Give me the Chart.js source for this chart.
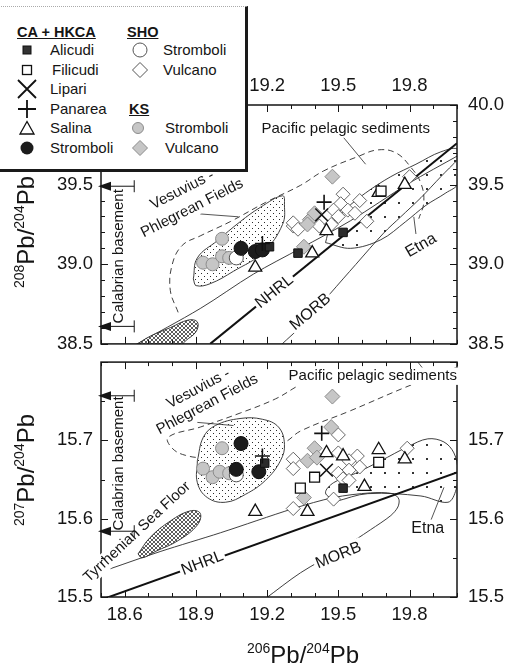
<!DOCTYPE html>
<html>
<head>
<meta charset="utf-8">
<title>Aeolian arc – Pb isotopes</title>
<script src="https://cdn.jsdelivr.net/npm/chart.js@4.4.1/dist/chart.umd.min.js"></script>
<style>
  html, body { margin: 0; padding: 0; background: #fff; }
  #wrap { position: relative; width: 507px; height: 668px; overflow: hidden;
          font-family: "Liberation Sans", Arial, Helvetica, sans-serif; color: #151515; }
  #wrap canvas { position: absolute; left: 0; }
  #cTop { top: 0; }
  #cBot { top: 340px; }
  .axtitle { position: absolute; white-space: nowrap; font-size: 24px; line-height: 24px; }
  .axtitle .s { font-size: 14px; position: relative; top: -10px; }
  .rot { transform: translate(-50%, -50%) rotate(-90deg); }
  #legend { position: absolute; left: -2px; top: 6px; width: 247px; height: 162px; background: #fff;
            border-right: 3px solid #1a1a1a; border-bottom: 3px solid #1a1a1a; border-top: 1px dotted #aaa; }
  .lg { position: absolute; font-size: 15px; line-height: 18px; white-space: nowrap; }
  .lh { font-weight: bold; font-size: 14.5px; text-decoration: underline; }
  #lgsym { position: absolute; left: 0; top: 0; }
</style>
</head>
<body>
<div id="wrap">
  <canvas id="cTop" width="507" height="366"></canvas>
  <canvas id="cBot" width="507" height="328"></canvas>

  <div class="axtitle rot" style="left:27px;top:232px"><span class="s">208</span>Pb/<span class="s">204</span>Pb</div>
  <div class="axtitle rot" style="left:27px;top:470px"><span class="s">207</span>Pb/<span class="s">204</span>Pb</div>
  <div class="axtitle" style="left:303px;top:643px;transform:translateX(-50%)"><span class="s">206</span>Pb/<span class="s">204</span>Pb</div>

  <div id="legend"></div>
  <svg id="lgsym" width="250" height="175">
    <rect x="23" y="46" width="8" height="8" fill="#333" stroke="#111" stroke-width="1"/>
    <rect x="22.5" y="65.5" width="9" height="9" fill="#fff" stroke="#111" stroke-width="1.3"/>
    <path d="M18 80 L36 98 M36 80 L18 98" stroke="#111" stroke-width="1.8" fill="none"/>
    <path d="M18 109 H36 M27 100 V118" stroke="#111" stroke-width="1.8" fill="none"/>
    <polygon points="27,121.5 34,134 20,134" fill="#fff" stroke="#111" stroke-width="1.3"/>
    <circle cx="27" cy="148" r="6.5" fill="#1c1c1c"/>
    <circle cx="140" cy="50" r="7" fill="#fff" stroke="#555" stroke-width="1"/>
    <polygon points="140,62.5 147.5,70 140,77.5 132.5,70" fill="#fff" stroke="#555" stroke-width="1"/>
    <circle cx="138" cy="128" r="5.5" fill="#c6c6c6" stroke="#8c8c8c" stroke-width="1"/>
    <polygon points="140,140.5 147.5,148 140,155.5 132.5,148" fill="#c6c6c6" stroke="#8c8c8c" stroke-width="1"/>
  </svg>
  <div class="lg lh" style="left:17px;top:23px">CA + HKCA</div>
  <div class="lg" style="left:50px;top:41px">Alicudi</div>
  <div class="lg" style="left:52px;top:61px">Filicudi</div>
  <div class="lg" style="left:50px;top:80px">Lipari</div>
  <div class="lg" style="left:50px;top:100px">Panarea</div>
  <div class="lg" style="left:50px;top:119px">Salina</div>
  <div class="lg" style="left:50px;top:139px">Stromboli</div>
  <div class="lg lh" style="left:127px;top:23px">SHO</div>
  <div class="lg" style="left:163px;top:41px">Stromboli</div>
  <div class="lg" style="left:163px;top:61px">Vulcano</div>
  <div class="lg lh" style="left:129px;top:100px">KS</div>
  <div class="lg" style="left:165px;top:119px">Stromboli</div>
  <div class="lg" style="left:165px;top:139px">Vulcano</div>
</div>

<script>
const FONT = '"Liberation Sans", Arial, Helvetica, sans-serif';
const INK = '#151515';

// ---- axis ticks ----
const xTickValues = [18.6, 18.9, 19.2, 19.5, 19.8];
const yTicks208 = [38.5, 39.0, 39.5, 40.0];
const yTicks207 = [15.5, 15.6, 15.7];

// ---- samples: [206Pb/204Pb, 208Pb/204Pb] and [206Pb/204Pb, 207Pb/204Pb] ----
const alicudi208 = [[19.21, 39.11], [19.33, 39.07], [19.52, 39.20]];
const alicudi207 = [[19.19, 15.671], [19.52, 15.639]];
const filicudi208 = [[19.68, 39.46]];
const filicudi207 = [[19.67, 15.672], [19.40, 15.653], [19.34, 15.639]];
const lipari208 = [[19.43, 39.31]];
const lipari207 = [[19.45, 15.662]];
const panarea208 = [[19.44, 39.39], [19.18, 39.13]];
const panarea207 = [[19.43, 15.709], [19.18, 15.680]];
const salina208 = [[19.15, 38.98], [19.39, 39.07], [19.45, 39.21], [19.67, 39.45], [19.78, 39.50]];
const salina207 = [[19.15, 15.609], [19.37, 15.609], [19.45, 15.684], [19.52, 15.680], [19.61, 15.641], [19.67, 15.688], [19.78, 15.676]];
const stromboliCA208 = [[19.09, 39.10], [19.15, 39.08], [19.18, 39.09]];
const stromboliCA207 = [[19.09, 15.696], [19.07, 15.663], [19.165, 15.660]];
const stromboliSHO208 = [[19.07, 39.04]];
const stromboliSHO207 = [[19.07, 15.656]];
const vulcanoSHO208 = [[19.80, 39.55], [19.52, 39.44], [19.59, 39.40], [19.51, 39.38], [19.54, 39.34], [19.57, 39.32],
  [19.48, 39.34], [19.50, 39.30], [19.31, 39.24], [19.31, 39.26], [19.33, 39.22], [19.62, 39.27], [19.42, 39.24], [19.47, 39.25]];
const vulcanoSHO207 = [[19.79, 15.690], [19.50, 15.707], [19.50, 15.684], [19.58, 15.680], [19.545, 15.674], [19.59, 15.666],
  [19.545, 15.662], [19.50, 15.658], [19.52, 15.651], [19.48, 15.625], [19.31, 15.676], [19.31, 15.664], [19.31, 15.613], [19.545, 15.649]];
const stromboliKS208 = [[19.01, 39.16], [18.93, 39.01], [18.97, 39.00], [19.01, 39.05], [19.04, 39.04]];
const stromboliKS207 = [[19.01, 15.690], [18.93, 15.664], [18.97, 15.653], [19.00, 15.660], [19.04, 15.658]];
const vulcanoKS208 = [[19.475, 39.55], [19.38, 39.28], [19.40, 39.32], [19.355, 39.11], [19.37, 39.25]];
const vulcanoKS207 = [[19.475, 15.756], [19.47, 15.717], [19.40, 15.690], [19.37, 15.674], [19.41, 15.678], [19.355, 15.627]];

// ---- reference fields and lines ----
const vpf208 = [[18.889, 38.908], [18.906, 39.040], [18.990, 39.148], [19.087, 39.268], [19.172, 39.358], [19.265, 39.430],
  [19.273, 39.376], [19.265, 39.250], [19.184, 39.076], [19.058, 38.956], [18.960, 38.878], [18.901, 38.866], [18.889, 38.908]];
const vpf207 = [[18.906, 15.674], [18.931, 15.704], [18.982, 15.719], [19.087, 15.728], [19.180, 15.727], [19.248, 15.717],
  [19.273, 15.695], [19.256, 15.674], [19.193, 15.649], [19.108, 15.631], [19.024, 15.621], [18.948, 15.627], [18.906, 15.646], [18.906, 15.674]];
const pelagic208 = [[18.825, 38.698], [18.792, 38.836], [18.800, 38.998], [18.842, 39.118], [18.918, 39.178], [19.045, 39.268],
  [19.193, 39.388], [19.341, 39.496], [19.438, 39.586], [19.582, 39.676], [19.666, 39.718], [19.742, 39.700], [19.805, 39.610],
  [19.848, 39.508], [19.860, 39.388], [19.839, 39.286]];
const pelagic207 = [[19.320, 15.768], [19.235, 15.753], [19.087, 15.735], [18.918, 15.717], [18.783, 15.704], [18.800, 15.690],
  [18.855, 15.681], [18.939, 15.678], [19.087, 15.682], [19.269, 15.697], [19.341, 15.712], [19.552, 15.738], [19.784, 15.768], [20.004, 15.794]];
const etna208 = [[19.446, 39.136], [19.552, 39.100], [19.679, 39.154], [19.784, 39.268], [19.869, 39.370], [19.953, 39.448],
  [20.004, 39.508], [20.004, 39.718], [19.932, 39.706], [19.827, 39.628], [19.721, 39.550], [19.615, 39.448], [19.531, 39.346],
  [19.467, 39.238], [19.446, 39.136]];
const etna207 = [[19.489, 15.622], [19.624, 15.632], [19.848, 15.629], [19.962, 15.621], [19.996, 15.637], [20.004, 15.662],
  [19.987, 15.684], [19.945, 15.698], [19.877, 15.702], [19.793, 15.692], [19.679, 15.674], [19.573, 15.658], [19.480, 15.646],
  [19.446, 15.633], [19.489, 15.622]];
const tsf208 = [[18.644, 38.49], [18.707, 38.548], [18.792, 38.602], [18.868, 38.650], [18.906, 38.638], [18.901, 38.578],
  [18.855, 38.518], [18.834, 38.49], [18.644, 38.49]];
const tsf207 = [[18.656, 15.555], [18.707, 15.576], [18.792, 15.597], [18.876, 15.610], [18.918, 15.607], [18.906, 15.592],
  [18.825, 15.572], [18.728, 15.558], [18.673, 15.550], [18.656, 15.555]];
const morbUpper208 = [[18.640, 38.49], [18.918, 38.722], [19.142, 38.938], [19.341, 39.100], [19.552, 39.274], [19.797, 39.508], [20.004, 39.682]];
const morbLower208 = [[19.256, 38.49], [19.362, 38.638], [19.467, 38.818], [19.573, 38.998], [19.691, 39.196], [19.763, 39.298],
  [19.848, 39.418], [19.932, 39.550], [20.004, 39.658]];
const morb207 = [[18.538, 15.536], [18.749, 15.558], [19.003, 15.582], [19.311, 15.613], [19.480, 15.627], [19.636, 15.633],
  [19.729, 15.632], [19.755, 15.625], [19.751, 15.615], [19.721, 15.604], [19.636, 15.586], [19.510, 15.561], [19.341, 15.531], [19.193, 15.498]];
const nhrl208 = [[18.960, 38.5], [20.0, 39.76]];
const nhrl207 = [[18.5, 15.4964], [20.0, 15.659]];
const leaders208 = [[[19.522, 39.796], [19.615, 39.628]], [[18.918, 39.316], [19.079, 39.298]], [[19.818, 39.298], [19.827, 39.190]]];
const leaders207 = [[[19.835, 15.800], [19.869, 15.787]], [[18.906, 15.723], [19.058, 15.719]], [[19.890, 15.598], [19.945, 15.640]]];
const calabrian208 = [38.61, 39.49];
const calabrian207 = [15.584, 15.757];

// ---- helpers ----
const pts = a => a.map(p => ({ x: p[0], y: p[1] }));

function tile(size, paint) {
  const c = document.createElement('canvas');
  c.width = c.height = size;
  paint(c.getContext('2d'), size);
  return c;
}
const stippleTile = tile(6, (g, s) => {
  g.fillStyle = '#fff'; g.fillRect(0, 0, s, s);
  g.fillStyle = '#2a2a2a'; g.fillRect(0, 0, 1, 1); g.fillRect(3, 3, 1, 1);
});
const sparseTile = tile(14, (g) => {
  g.fillStyle = '#333'; g.fillRect(6, 6, 2, 2);
});
const hatchTile = tile(4, (g, s) => {
  g.fillStyle = '#fff'; g.fillRect(0, 0, s, s);
  g.strokeStyle = '#333'; g.lineWidth = 0.8;
  g.beginPath(); g.moveTo(0, 0); g.lineTo(4, 4); g.moveTo(4, 0); g.lineTo(0, 4); g.stroke();
});

const markerStyles = {
  lipari:   { pointStyle: 'crossRot', pointRadius: 9, borderColor: '#111', borderWidth: 1.6 },
  panarea:  { pointStyle: 'cross', pointRadius: 7.5, borderColor: '#111', borderWidth: 1.6 },
  alicudi:  { pointStyle: 'rect', pointRadius: 6, backgroundColor: '#2b2b2b', borderColor: '#111', borderWidth: 1 },
  filicudi: { pointStyle: 'rect', pointRadius: 7, backgroundColor: '#fff', borderColor: '#111', borderWidth: 1.3 },
  salina:   { pointStyle: 'triangle', pointRadius: 7.5, backgroundColor: '#fff', borderColor: '#111', borderWidth: 1.3 },
  strombCA: { pointStyle: 'circle', pointRadius: 7, backgroundColor: '#1c1c1c', borderColor: '#111', borderWidth: 1 },
  strombSHO:{ pointStyle: 'circle', pointRadius: 7, backgroundColor: '#fff', borderColor: '#555', borderWidth: 1 },
  strombKS: { pointStyle: 'circle', pointRadius: 6.5, backgroundColor: '#c6c6c6', borderColor: '#8c8c8c', borderWidth: 1 },
  vulcKS:   { pointStyle: 'rectRot', pointRadius: 7.5, backgroundColor: '#c6c6c6', borderColor: '#8c8c8c', borderWidth: 1 },
  vulcSHO:  { pointStyle: 'rectRot', pointRadius: 7, backgroundColor: '#fff', borderColor: '#555', borderWidth: 0.9 }
};

function marker(label, data, style) {
  return Object.assign({ label, data: pts(data), showLine: false, order: 0 }, style);
}
function field(data, style) {
  return Object.assign({ type: 'line', data: pts(data), pointRadius: 0, borderColor: '#2a2a2a',
    borderWidth: 0.9, fill: false, tension: 0.4, order: 5 }, style);
}

function markers(set) {
  return [
    marker('Lipari', set.lipari, markerStyles.lipari),
    marker('Panarea', set.panarea, markerStyles.panarea),
    marker('Alicudi', set.alicudi, markerStyles.alicudi),
    marker('Filicudi', set.filicudi, markerStyles.filicudi),
    marker('Salina', set.salina, markerStyles.salina),
    marker('Stromboli CA', set.strombCA, markerStyles.strombCA),
    marker('Stromboli SHO', set.strombSHO, markerStyles.strombSHO),
    marker('Stromboli KS', set.strombKS, markerStyles.strombKS),
    marker('Vulcano KS', set.vulcKS, markerStyles.vulcKS),
    marker('Vulcano SHO', set.vulcSHO, markerStyles.vulcSHO)
  ];
}

function scaleCfg(pos, min, max, tickVals, size, pad) {
  return {
    type: 'linear', position: pos, min, max,
    afterBuildTicks: s => { s.ticks = tickVals.map(v => ({ value: v })); },
    afterFit: s => { if (pos === 'left' || pos === 'right') s.width = size; else s.height = size; },
    grid: { display: false, drawTicks: false },
    border: { display: false },
    ticks: { padding: pad, color: INK, font: { family: FONT, size: 18.5 }, autoSkip: false, maxRotation: 0,
             callback: v => Number(v).toFixed(1) }
  };
}

function drawLabel(ctx, text, x, y, deg, size) {
  ctx.save();
  ctx.translate(x, y);
  ctx.rotate(deg * Math.PI / 180);
  ctx.font = size + 'px ' + FONT;
  const w = ctx.measureText(text).width;
  ctx.fillStyle = '#fff';
  ctx.fillRect(-w / 2 - 2, -size * 0.58, w + 4, size * 1.16);
  ctx.fillStyle = INK;
  ctx.textAlign = 'center';
  ctx.textBaseline = 'middle';
  ctx.fillText(text, 0, 0);
  ctx.restore();
}

// frame, inward ticks, labels and the Calabrian basement range
function makeDecor(cfg) {
  return {
    id: 'decor',
    afterDatasetsDraw(chart) {
      const { ctx, chartArea: a, scales } = chart;
      const xs = scales.x, ys = scales.y;
      const px = v => xs.getPixelForValue(v), py = v => ys.getPixelForValue(v);
      ctx.save();
      ctx.strokeStyle = INK;
      ctx.lineWidth = 1.5;
      ctx.strokeRect(a.left, a.top, a.right - a.left, a.bottom - a.top);

      cfg.labels.forEach(l => drawLabel(ctx, l.t, px(l.x), py(l.y), l.a, l.s));

      ctx.lineWidth = 1;
      ctx.beginPath();
      for (let i = 0; i <= 15; i++) {
        const v = 18.5 + i * 0.1;
        const X = Math.round(px(v)) + 0.5;
        const L = xTickValues.some(t => Math.abs(t - v) < 1e-6) ? 7 : 4;
        ctx.moveTo(X, a.bottom); ctx.lineTo(X, a.bottom - L);
        ctx.moveTo(X, a.top); ctx.lineTo(X, a.top + L);
      }
      const n = Math.round((cfg.yMax - cfg.yMin) / cfg.yStep);
      for (let j = 0; j <= n; j++) {
        const v = cfg.yMin + j * cfg.yStep;
        const Y = Math.round(py(v)) + 0.5;
        const L = cfg.yMajor.some(t => Math.abs(t - v) < 1e-6) ? 7 : 4;
        ctx.moveTo(a.left, Y); ctx.lineTo(a.left + L, Y);
        ctx.moveTo(a.right, Y); ctx.lineTo(a.right - L, Y);
      }
      ctx.stroke();

      // Calabrian basement range
      const xEnd = px(18.64);
      ctx.fillStyle = INK;
      cfg.calabrian.forEach(v => {
        const Y = py(v);
        ctx.beginPath();
        ctx.moveTo(a.left + 8, Y); ctx.lineTo(xEnd, Y);
        ctx.moveTo(xEnd, Y - 6); ctx.lineTo(xEnd, Y + 6);
        ctx.stroke();
        ctx.beginPath();
        ctx.moveTo(a.left - 3, Y); ctx.lineTo(a.left + 10, Y - 4.5); ctx.lineTo(a.left + 10, Y + 4.5);
        ctx.closePath(); ctx.fill();
      });
      ctx.save();
      ctx.translate(px(18.576), py((cfg.calabrian[0] + cfg.calabrian[1]) / 2));
      ctx.rotate(-Math.PI / 2);
      ctx.font = '15px ' + FONT;
      ctx.textAlign = 'center'; ctx.textBaseline = 'middle';
      ctx.fillText('Calabrian basement', 0, 0);
      ctx.restore();
      ctx.restore();
    }
  };
}

function baseOptions(padding, scales) {
  return {
    responsive: false, animation: false, devicePixelRatio: 1, events: [],
    layout: { padding },
    plugins: { legend: { display: false }, tooltip: { enabled: false } },
    scales
  };
}

// ---- upper panel: 208Pb/204Pb ----
const ctxTop = document.getElementById('cTop').getContext('2d');
const topDatasets = markers({
  lipari: lipari208, panarea: panarea208, alicudi: alicudi208, filicudi: filicudi208, salina: salina208,
  strombCA: stromboliCA208, strombSHO: stromboliSHO208, strombKS: stromboliKS208, vulcKS: vulcanoKS208, vulcSHO: vulcanoSHO208
}).concat([
  field(nhrl208, { borderWidth: 2, borderColor: '#111', tension: 0, order: 5 }),
  field(tsf208, { fill: 'shape', backgroundColor: ctxTop.createPattern(hatchTile, 'repeat'), order: 6 }),
  field(vpf208, { fill: 'shape', backgroundColor: ctxTop.createPattern(stippleTile, 'repeat'), order: 6 }),
  field(etna208, { fill: 'shape', backgroundColor: ctxTop.createPattern(sparseTile, 'repeat'), tension: 0.35, order: 7 }),
  field(morbUpper208, { tension: 0.3, order: 8 }),
  field(morbLower208, { tension: 0.3, order: 8 }),
  field(pelagic208, { borderDash: [6, 4], order: 9 })
], leaders208.map(l => field(l, { borderWidth: 0.8, tension: 0, order: 5 })));

new Chart(ctxTop, {
  type: 'scatter',
  data: { datasets: topDatasets },
  options: baseOptions({ top: 0, bottom: 13, left: 0, right: 0 }, {
    x: scaleCfg('top', 18.5, 20.0, xTickValues, 105, 8),
    y: scaleCfg('left', 38.5, 40.0, yTicks208, 101, 8),
    y2: scaleCfg('right', 38.5, 40.0, yTicks208, 50, 11)
  }),
  plugins: [makeDecor({
    yMin: 38.5, yMax: 40.0, yStep: 0.1, yMajor: yTicks208, calabrian: calabrian208,
    labels: [
      { t: 'Pacific pelagic sediments', x: 19.531, y: 39.85, a: 0, s: 15 },
      { t: 'Vesuvius -', x: 18.842, y: 39.466, a: -27, s: 15 },
      { t: 'Phlegrean Fields', x: 18.884, y: 39.352, a: -27, s: 15 },
      { t: 'NHRL', x: 19.231, y: 38.828, a: -39, s: 16 },
      { t: 'MORB', x: 19.383, y: 38.70, a: -40, s: 16 },
      { t: 'Etna', x: 19.848, y: 39.118, a: -30, s: 16 }
    ]
  })]
});

// ---- lower panel: 207Pb/204Pb ----
const ctxBot = document.getElementById('cBot').getContext('2d');
const botDatasets = markers({
  lipari: lipari207, panarea: panarea207, alicudi: alicudi207, filicudi: filicudi207, salina: salina207,
  strombCA: stromboliCA207, strombSHO: stromboliSHO207, strombKS: stromboliKS207, vulcKS: vulcanoKS207, vulcSHO: vulcanoSHO207
}).concat([
  field(nhrl207, { borderWidth: 2, borderColor: '#111', tension: 0, order: 5 }),
  field(tsf207, { fill: 'shape', backgroundColor: ctxBot.createPattern(hatchTile, 'repeat'), order: 6 }),
  field(vpf207, { fill: 'shape', backgroundColor: ctxBot.createPattern(stippleTile, 'repeat'), order: 6 }),
  field(etna207, { fill: 'shape', backgroundColor: ctxBot.createPattern(sparseTile, 'repeat'), tension: 0.35, order: 7 }),
  field(morb207, { tension: 0.3, order: 8 }),
  field(pelagic207, { borderDash: [6, 4], order: 9 })
], leaders207.map(l => field(l, { borderWidth: 0.8, tension: 0, order: 5 })));

new Chart(ctxBot, {
  type: 'scatter',
  data: { datasets: botDatasets },
  options: baseOptions({ top: 13, bottom: 0, left: 0, right: 0 }, {
    x: scaleCfg('bottom', 18.5, 20.0, xTickValues, 71, 7),
    y: scaleCfg('left', 15.5, 15.8, yTicks207, 101, 8),
    y2: scaleCfg('right', 15.5, 15.8, yTicks207, 50, 11)
  }),
  plugins: [makeDecor({
    yMin: 15.5, yMax: 15.8, yStep: 0.05, yMajor: [15.5, 15.6, 15.7, 15.8], calabrian: calabrian207,
    labels: [
      { t: 'Pacific pelagic sediments', x: 19.645, y: 15.782, a: 0, s: 15 },
      { t: 'Vesuvius -', x: 18.910, y: 15.766, a: -28, s: 15 },
      { t: 'Phlegrean Fields', x: 18.948, y: 15.746, a: -28, s: 15 },
      { t: 'Tyrrhenian Sea Floor', x: 18.652, y: 15.583, a: -43, s: 15 },
      { t: 'NHRL', x: 18.927, y: 15.543, a: -21, s: 16 },
      { t: 'MORB', x: 19.501, y: 15.553, a: -22, s: 16 },
      { t: 'Etna', x: 19.877, y: 15.587, a: 0, s: 16 }
    ]
  })]
});
</script>
</body>
</html>
